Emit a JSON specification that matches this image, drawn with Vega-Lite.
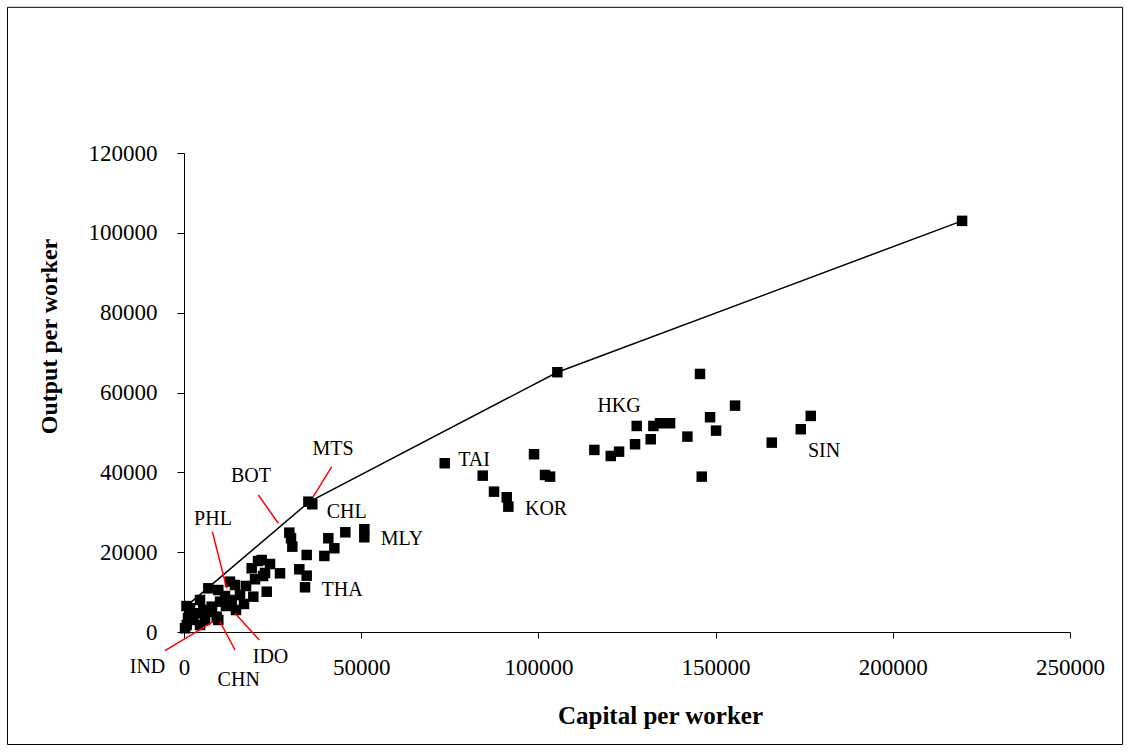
{
  "$schema": "https://vega.github.io/schema/vega-lite/v6.json",
  "width": 886,
  "height": 479,
  "autosize": "none",
  "padding": {"left": 184, "top": 153, "right": 60, "bottom": 120},
  "background": "white",
  "config": {
    "view": {"stroke": null},
    "font": "Liberation Serif",
    "axis": {
      "grid": false,
      "domainColor": "black",
      "domainWidth": 1,
      "tickColor": "black",
      "tickWidth": 1,
      "labelFont": "Liberation Serif",
      "labelFontSize": 23,
      "labelColor": "black",
      "labelFlush": false,
      "labelOverlap": false,
      "titleFont": "Liberation Serif",
      "titleFontSize": 24,
      "titleFontWeight": "bold",
      "titleColor": "black"
    }
  },
  "datasets": {
    "points": [
      {"k": 700, "y": 6500},
      {"k": 280, "y": 930},
      {"k": 760, "y": 1750},
      {"k": 1130, "y": 3510},
      {"k": 1690, "y": 5940},
      {"k": 2630, "y": 3010},
      {"k": 3580, "y": 4690},
      {"k": 4520, "y": 1750},
      {"k": 4520, "y": 8020},
      {"k": 5450, "y": 5510},
      {"k": 5930, "y": 3010},
      {"k": 6860, "y": 10950},
      {"k": 7810, "y": 6340},
      {"k": 7900, "y": 5010},
      {"k": 9220, "y": 3840},
      {"k": 9680, "y": 3010},
      {"k": 9680, "y": 10520},
      {"k": 10160, "y": 7590},
      {"k": 11570, "y": 9020},
      {"k": 11850, "y": 6520},
      {"k": 12420, "y": 7270},
      {"k": 12980, "y": 12610},
      {"k": 13460, "y": 8020},
      {"k": 14390, "y": 11780},
      {"k": 14670, "y": 5510},
      {"k": 15800, "y": 9270},
      {"k": 16930, "y": 7020},
      {"k": 17500, "y": 11530},
      {"k": 19100, "y": 15960},
      {"k": 19560, "y": 8850},
      {"k": 20040, "y": 13210},
      {"k": 20880, "y": 17790},
      {"k": 21930, "y": 18040},
      {"k": 22300, "y": 14030},
      {"k": 22860, "y": 14790},
      {"k": 23340, "y": 10100},
      {"k": 24270, "y": 17040},
      {"k": 27090, "y": 14710},
      {"k": 29720, "y": 24890},
      {"k": 30190, "y": 23480},
      {"k": 30570, "y": 21380},
      {"k": 32540, "y": 15710},
      {"k": 34150, "y": 11200},
      {"k": 34620, "y": 14110},
      {"k": 34620, "y": 19300},
      {"k": 35100, "y": 32650},
      {"k": 36200, "y": 32000},
      {"k": 39600, "y": 19050},
      {"k": 40720, "y": 23480},
      {"k": 42420, "y": 20980},
      {"k": 45520, "y": 24980},
      {"k": 50880, "y": 25740},
      {"k": 50880, "y": 23730},
      {"k": 73570, "y": 42280},
      {"k": 84290, "y": 39170},
      {"k": 87480, "y": 35160},
      {"k": 91060, "y": 33760},
      {"k": 91520, "y": 31400},
      {"k": 98770, "y": 44530},
      {"k": 101870, "y": 39340},
      {"k": 103290, "y": 38920},
      {"k": 105350, "y": 65080},
      {"k": 115790, "y": 45610},
      {"k": 120420, "y": 44100},
      {"k": 122760, "y": 45180},
      {"k": 127270, "y": 47040},
      {"k": 127740, "y": 51620},
      {"k": 131690, "y": 48290},
      {"k": 132440, "y": 51620},
      {"k": 134330, "y": 52300},
      {"k": 137150, "y": 52300},
      {"k": 142040, "y": 48950},
      {"k": 145600, "y": 64650},
      {"k": 146090, "y": 38920},
      {"k": 148440, "y": 53800},
      {"k": 150130, "y": 50450},
      {"k": 155490, "y": 56710},
      {"k": 165840, "y": 47440},
      {"k": 174030, "y": 50800},
      {"k": 176850, "y": 54130},
      {"k": 219550, "y": 103000}
    ],
    "frontier": [
      {"k": 700, "y": 6500},
      {"k": 35300, "y": 32600},
      {"k": 105350, "y": 65080},
      {"k": 219550, "y": 103000}
    ],
    "labels": [
      {"name": "MTS", "k": 42050, "y": 44360},
      {"name": "BOT", "k": 18910, "y": 37510},
      {"name": "PHL", "k": 8180, "y": 26810},
      {"name": "CHL", "k": 45910, "y": 28490},
      {"name": "MLY", "k": 61520, "y": 21800},
      {"name": "THA", "k": 44590, "y": 9020},
      {"name": "TAI", "k": 81840, "y": 41600},
      {"name": "KOR", "k": 102160, "y": 29320},
      {"name": "HKG", "k": 122760, "y": 55210},
      {"name": "SIN", "k": 180610, "y": 43780},
      {"name": "IND", "k": -10300, "y": -10200},
      {"name": "CHN", "k": 15440, "y": -13530},
      {"name": "IDO", "k": 24410, "y": -7840}
    ],
    "leaders": [
      {"name": "MTS", "k": 41680, "y": 41420, "k2": 36490, "y2": 33910},
      {"name": "BOT", "k": 20970, "y": 34330, "k2": 26610, "y2": 27240},
      {"name": "PHL", "k": 7990, "y": 25140, "k2": 12050, "y2": 10950},
      {"name": "IND", "k": -5360, "y": -4690, "k2": 8270, "y2": 2580},
      {"name": "CHN", "k": 14390, "y": -4510, "k2": 10160, "y2": 2580},
      {"name": "IDO", "k": 21250, "y": -2000, "k2": 14390, "y2": 4690}
    ]
  },
  "layer": [
    {
      "data": {"name": "frontier"},
      "mark": {"type": "line", "color": "black", "strokeWidth": 1.5},
      "encoding": {
        "x": {
          "field": "k",
          "type": "quantitative",
          "scale": {"domain": [0, 250000], "nice": false},
          "axis": {
            "title": "Capital per worker",
            "values": [0, 50000, 100000, 150000, 200000, 250000],
            "format": "d",
            "tickSize": 6,
            "labelPadding": 18,
            "titleFontSize": 25,
            "titleX": 476,
            "titleY": 91,
            "titleAlign": "center",
            "titleBaseline": "alphabetic"
          }
        },
        "y": {
          "field": "y",
          "type": "quantitative",
          "scale": {"domain": [0, 120000], "nice": false},
          "axis": {
            "title": "Output per worker",
            "values": [0, 20000, 40000, 60000, 80000, 100000, 120000],
            "format": "d",
            "tickSize": 7,
            "labelPadding": 20,
            "titleX": -135,
            "titleY": 183,
            "titleAlign": "center",
            "titleBaseline": "middle"
          }
        },
        "order": {"field": "k", "type": "quantitative"}
      }
    },
    {
      "data": {"values": [{}]},
      "mark": {"type": "rect", "filled": false, "color": "black", "strokeWidth": 1},
      "encoding": {
        "x": {"datum": -49810, "type": "quantitative"},
        "x2": {"datum": 264840},
        "y": {"datum": -28190, "type": "quantitative"},
        "y2": {"datum": 156500}
      }
    },
    {
      "data": {"name": "points"},
      "mark": {"type": "square", "filled": true, "color": "black", "size": 110, "opacity": 1},
      "encoding": {
        "x": {"field": "k", "type": "quantitative"},
        "y": {"field": "y", "type": "quantitative"}
      }
    },
    {
      "data": {"name": "leaders"},
      "mark": {"type": "rule", "color": "red", "strokeWidth": 1.5},
      "encoding": {
        "x": {"field": "k", "type": "quantitative"},
        "y": {"field": "y", "type": "quantitative"},
        "x2": {"field": "k2"},
        "y2": {"field": "y2"}
      }
    },
    {
      "data": {"name": "labels"},
      "mark": {"type": "text", "font": "Liberation Serif", "fontSize": 20, "color": "black", "align": "center", "baseline": "alphabetic"},
      "encoding": {
        "x": {"field": "k", "type": "quantitative"},
        "y": {"field": "y", "type": "quantitative"},
        "text": {"field": "name"}
      }
    }
  ]
}
